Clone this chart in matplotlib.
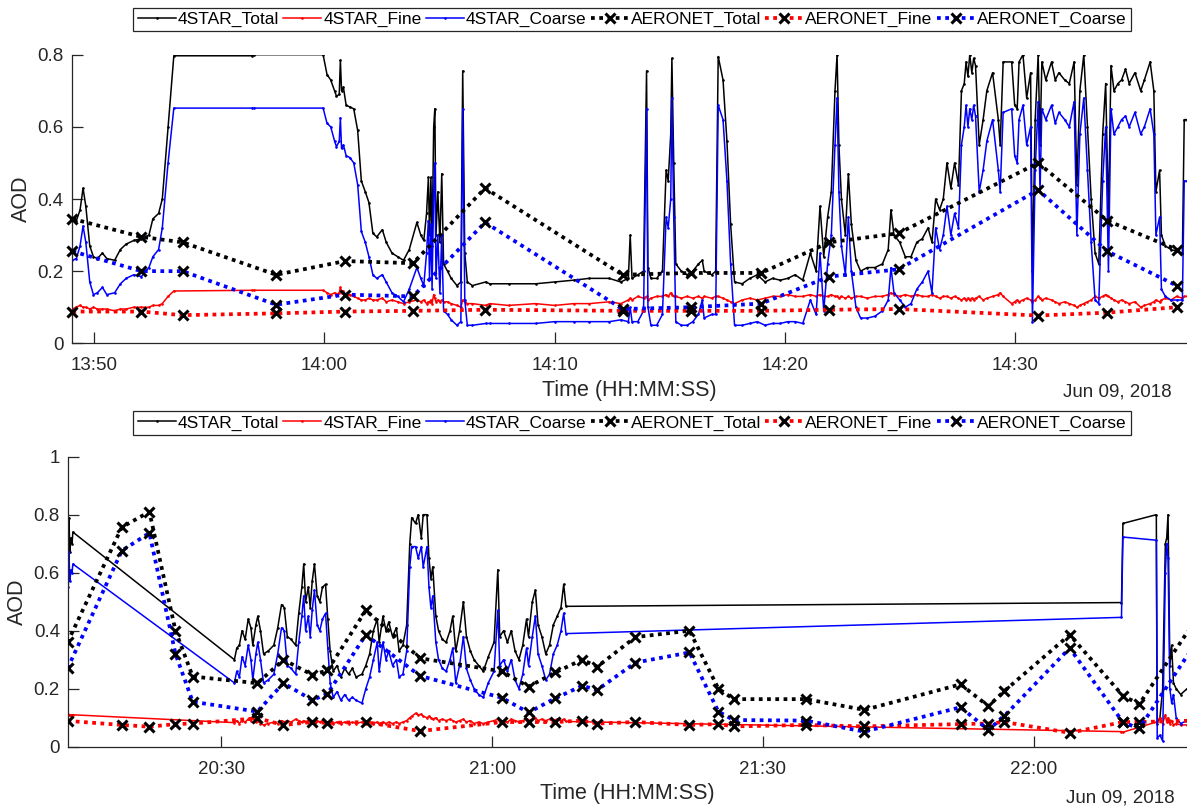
import numpy as np
import pandas as pd
import matplotlib
matplotlib.use('Agg')
import matplotlib.pyplot as plt
import matplotlib.dates as mdates
from matplotlib.ticker import FuncFormatter

plt.rcParams['font.family'] = ['Liberation Sans', 'DejaVu Sans']

# ---- 13:49 - 14:37 leg, times in minutes after 13:00 ----
star_t1 = [49.07, 49.24, 49.40, 49.53, 49.65, 49.82, 49.98, 50.15, 50.37, 50.56,
           50.90, 51.15, 51.40, 51.73, 52.06, 52.39, 52.56, 52.81, 52.97, 53.22,
           53.47, 56.88, 56.95, 59.95, 60.12, 60.28, 60.45, 60.53, 60.65, 60.70,
           60.75, 60.83, 60.95, 61.11, 61.28, 61.45, 61.61, 61.78, 61.94, 62.11,
           62.28, 62.52, 62.69, 62.94, 63.19, 63.44, 63.69, 64.02, 64.19, 64.32,
           64.44, 64.52, 64.57, 64.63, 64.68, 64.75, 64.80, 64.85, 64.93, 65.02,
           65.10, 65.18, 65.35, 65.51, 65.76, 65.93, 66.01, 66.10, 66.21, 66.43,
           67.01, 67.18, 68.00, 69.17, 70.00, 70.83, 71.50, 72.37, 72.87, 73.20,
           73.28, 73.36, 73.61, 73.86, 73.99, 74.05, 74.18, 74.43, 74.68, 74.84,
           74.93, 75.04, 75.09, 75.17, 75.26, 75.50, 75.75, 76.00, 76.24, 76.41,
           76.49, 76.82, 76.99, 77.10, 77.31, 77.48, 77.64, 77.81, 78.14, 78.47,
           78.80, 79.13, 79.46, 79.79, 80.12, 80.44, 80.77, 81.10, 81.35, 81.52,
           81.68, 81.85, 82.01, 82.17, 82.26, 82.34, 82.45, 82.62, 82.75, 82.88,
           83.08, 83.28, 83.57, 83.90, 84.23, 84.48, 84.60, 84.73, 84.98, 85.22,
           85.47, 85.72, 85.96, 86.21, 86.38, 86.54, 86.71, 86.87, 87.03, 87.20,
           87.36, 87.53, 87.66, 87.78, 87.86, 87.94, 88.02, 88.11, 88.19, 88.27,
           88.43, 88.60, 88.76, 89.01, 89.26, 89.34, 89.47, 89.84, 89.97, 90.08,
           90.16, 90.33, 90.49, 90.66, 90.74, 90.86, 90.99, 91.07, 91.15, 91.32,
           91.57, 91.73, 91.89, 92.14, 92.34, 92.55, 92.67, 92.80, 92.97, 93.13,
           93.29, 93.46, 93.62, 93.79, 93.92, 94.04, 94.15, 94.28, 94.45, 94.61,
           94.78, 94.94, 95.19, 95.44, 95.60, 95.85, 96.01, 96.10, 96.26, 96.34,
           96.51, 96.75, 97.00, 97.25, 97.33, 97.45]
star_total1 = [0.345, 0.34, 0.37, 0.43, 0.38, 0.27, 0.24, 0.235, 0.25, 0.235,
               0.23, 0.26, 0.275, 0.285, 0.29, 0.30, 0.345, 0.36, 0.40, 0.60,
               0.797, 0.797, 0.80, 0.80, 0.745, 0.73, 0.70, 0.685, 0.69, 0.785,
               0.70, 0.71, 0.66, 0.655, 0.65, 0.59, 0.45, 0.42, 0.39, 0.305,
               0.295, 0.315, 0.28, 0.25, 0.24, 0.23, 0.26, 0.335, 0.30, 0.285,
               0.36, 0.46, 0.30, 0.46, 0.27, 0.60, 0.65, 0.30, 0.42, 0.28,
               0.47, 0.22, 0.20, 0.18, 0.16, 0.17, 0.755, 0.25, 0.17, 0.16,
               0.17, 0.165, 0.165, 0.165, 0.17, 0.175, 0.18, 0.18, 0.17, 0.18,
               0.30, 0.18, 0.19, 0.20, 0.755, 0.21, 0.18, 0.18, 0.20, 0.48,
               0.45, 0.58, 0.79, 0.50, 0.22, 0.20, 0.19, 0.20, 0.22, 0.23,
               0.20, 0.19, 0.20, 0.795, 0.73, 0.56, 0.33, 0.17, 0.165, 0.18,
               0.19, 0.17, 0.18, 0.175, 0.18, 0.19, 0.175, 0.25, 0.20, 0.38,
               0.24, 0.35, 0.42, 0.70, 0.80, 0.55, 0.40, 0.30, 0.47, 0.33,
               0.23, 0.20, 0.21, 0.21, 0.22, 0.26, 0.37, 0.30, 0.28, 0.24,
               0.24, 0.28, 0.29, 0.32, 0.28, 0.40, 0.37, 0.40, 0.50, 0.43,
               0.50, 0.44, 0.70, 0.72, 0.78, 0.74, 0.80, 0.75, 0.79, 0.77,
               0.55, 0.62, 0.70, 0.75, 0.62, 0.55, 0.78, 0.78, 0.66, 0.65,
               0.78, 0.80, 0.68, 0.75, 0.20, 0.62, 0.80, 0.55, 0.78, 0.73,
               0.78, 0.73, 0.75, 0.73, 0.72, 0.78, 0.44, 0.70, 0.80, 0.60,
               0.40, 0.25, 0.22, 0.58, 0.72, 0.35, 0.77, 0.70, 0.72, 0.73,
               0.76, 0.72, 0.75, 0.70, 0.73, 0.78, 0.70, 0.42, 0.48, 0.30,
               0.27, 0.26, 0.255, 0.25, 0.62, 0.62]
star_fine1 = [0.095, 0.10, 0.105, 0.10, 0.10, 0.095, 0.10, 0.095, 0.095, 0.095,
              0.09, 0.095, 0.095, 0.10, 0.10, 0.10, 0.105, 0.105, 0.11, 0.13,
              0.145, 0.147, 0.147, 0.147, 0.14, 0.135, 0.14, 0.135, 0.14, 0.155,
              0.14, 0.145, 0.13, 0.135, 0.13, 0.125, 0.12, 0.12, 0.125, 0.12,
              0.12, 0.125, 0.115, 0.12, 0.115, 0.11, 0.115, 0.12, 0.115, 0.12,
              0.11, 0.115, 0.115, 0.12, 0.11, 0.135, 0.125, 0.115, 0.12, 0.115,
              0.12, 0.115, 0.115, 0.11, 0.105, 0.10, 0.12, 0.115, 0.11, 0.11,
              0.105, 0.11, 0.105, 0.11, 0.105, 0.11, 0.11, 0.115, 0.11, 0.12,
              0.125, 0.12, 0.13, 0.125, 0.13, 0.12, 0.125, 0.13, 0.13, 0.135,
              0.13, 0.14, 0.135, 0.13, 0.13, 0.125, 0.13, 0.125, 0.13, 0.125,
              0.13, 0.125, 0.13, 0.13, 0.125, 0.12, 0.115, 0.11, 0.12, 0.125,
              0.12, 0.125, 0.13, 0.13, 0.135, 0.13, 0.13, 0.135, 0.13, 0.135,
              0.13, 0.13, 0.135, 0.13, 0.13, 0.125, 0.13, 0.125, 0.13, 0.125,
              0.13, 0.13, 0.125, 0.13, 0.13, 0.135, 0.14, 0.135, 0.13, 0.135,
              0.13, 0.135, 0.13, 0.13, 0.135, 0.13, 0.125, 0.13, 0.13, 0.125,
              0.13, 0.125, 0.12, 0.125, 0.12, 0.125, 0.12, 0.125, 0.12, 0.125,
              0.13, 0.12, 0.125, 0.13, 0.135, 0.14, 0.13, 0.11, 0.115, 0.12,
              0.115, 0.12, 0.125, 0.12, 0.115, 0.12, 0.13, 0.125, 0.12, 0.125,
              0.12, 0.115, 0.11, 0.115, 0.11, 0.105, 0.10, 0.105, 0.11, 0.115,
              0.12, 0.13, 0.125, 0.13, 0.135, 0.13, 0.125, 0.12, 0.115, 0.12,
              0.115, 0.11, 0.115, 0.10, 0.105, 0.11, 0.115, 0.12, 0.115, 0.12,
              0.125, 0.12, 0.13, 0.125, 0.13, 0.13]
star_coarse1 = [0.23, 0.235, 0.27, 0.325, 0.28, 0.17, 0.135, 0.14, 0.155, 0.135,
                0.14, 0.165, 0.18, 0.19, 0.185, 0.21, 0.24, 0.26, 0.32, 0.50,
                0.652, 0.652, 0.652, 0.652, 0.61, 0.60, 0.56, 0.545, 0.56, 0.625,
                0.54, 0.55, 0.52, 0.515, 0.50, 0.44, 0.31, 0.28, 0.24, 0.19,
                0.18, 0.19, 0.17, 0.14, 0.13, 0.115, 0.15, 0.21, 0.18, 0.16,
                0.25, 0.34, 0.18, 0.33, 0.15, 0.42, 0.50, 0.18, 0.30, 0.14,
                0.30, 0.09, 0.08, 0.065, 0.05, 0.06, 0.65, 0.12, 0.05, 0.05,
                0.055, 0.055, 0.055, 0.055, 0.06, 0.06, 0.06, 0.06, 0.065, 0.06,
                0.10, 0.06, 0.06, 0.09, 0.65, 0.10, 0.05, 0.05, 0.08, 0.35,
                0.32, 0.40, 0.68, 0.35, 0.06, 0.05, 0.05, 0.06, 0.08, 0.12,
                0.07, 0.08, 0.08, 0.66, 0.62, 0.45, 0.22, 0.05, 0.05, 0.055,
                0.06, 0.05, 0.055, 0.055, 0.06, 0.06, 0.055, 0.12, 0.08, 0.25,
                0.09, 0.22, 0.30, 0.55, 0.68, 0.42, 0.27, 0.19, 0.35, 0.20,
                0.10, 0.07, 0.07, 0.075, 0.09, 0.12, 0.21, 0.14, 0.12, 0.10,
                0.11, 0.15, 0.17, 0.20, 0.14, 0.32, 0.26, 0.30, 0.38, 0.30,
                0.36, 0.32, 0.55, 0.60, 0.66, 0.60, 0.65, 0.62, 0.66, 0.63,
                0.42, 0.48, 0.56, 0.62, 0.48, 0.42, 0.64, 0.65, 0.52, 0.50,
                0.62, 0.66, 0.55, 0.60, 0.06, 0.48, 0.67, 0.42, 0.65, 0.62,
                0.66, 0.61, 0.64, 0.62, 0.60, 0.67, 0.30, 0.58, 0.68, 0.48,
                0.28, 0.12, 0.11, 0.45, 0.60, 0.20, 0.65, 0.58, 0.60, 0.62,
                0.63, 0.60, 0.64, 0.58, 0.60, 0.65, 0.58, 0.30, 0.35, 0.15,
                0.13, 0.12, 0.12, 0.12, 0.45, 0.45]

aer_t1 = [49.07, 52.06, 53.85, 57.91, 60.91, 63.85, 66.98, 72.95, 75.91,
          78.96, 81.93, 84.93, 90.99, 93.99, 97.00]
aer_total1 = [0.345, 0.295, 0.28, 0.19, 0.228, 0.222, 0.43, 0.19, 0.195,
              0.195, 0.28, 0.305, 0.50, 0.34, 0.26]
aer_fine1 = [0.088, 0.088, 0.078, 0.083, 0.088, 0.09, 0.093, 0.09, 0.09,
             0.09, 0.093, 0.095, 0.077, 0.085, 0.10]
aer_coarse1 = [0.255, 0.20, 0.20, 0.107, 0.135, 0.13, 0.335, 0.095, 0.10,
               0.11, 0.185, 0.205, 0.425, 0.255, 0.16]

# ---- 20:13 - 22:17 leg, times in minutes after 20:00 ----
star_t2 = [13.03, 13.11, 13.20, 13.33, 13.45, 13.54, 31.44, 31.70, 31.99, 32.29,
           32.63, 32.97, 33.27, 33.48, 33.82, 34.03, 34.33, 34.67, 35.18, 35.81,
           36.24, 36.66, 36.96, 37.30, 37.72, 38.23, 38.57, 38.91, 39.12, 39.33,
           39.63, 39.84, 40.06, 40.31, 40.61, 40.90, 41.20, 41.54, 41.79, 42.05,
           42.39, 42.81, 43.24, 43.66, 44.09, 44.51, 44.93, 45.57, 46.00, 46.42,
           46.84, 47.27, 47.48, 47.90, 48.24, 48.54, 48.96, 49.39, 49.69, 50.11,
           50.53, 50.87, 51.09, 51.51, 51.81, 52.15, 52.36, 52.78, 53.00, 53.21,
           53.42, 53.76, 54.06, 54.48, 54.90, 55.33, 55.63, 55.97, 56.39, 56.81,
           57.15, 57.58, 58.00, 58.51, 59.02, 59.57, 60.21, 60.63, 60.84, 61.27,
           61.69, 62.12, 62.54, 62.97, 63.39, 63.81, 64.03, 64.45, 64.79, 65.09,
           65.51, 65.94, 66.36, 66.78, 67.21, 67.63, 67.93, 68.18, 129.74, 129.90,
           133.60, 133.70, 134.00, 134.30, 134.60, 134.75, 134.90, 135.10, 135.30, 135.50,
           135.80, 136.30, 137.00]
star_total2 = [0.66, 0.79, 0.67, 0.72, 0.70, 0.74, 0.30, 0.34, 0.35, 0.40,
               0.37, 0.44, 0.41, 0.35, 0.42, 0.45, 0.40, 0.32, 0.33, 0.35,
               0.41, 0.49, 0.48, 0.38, 0.37, 0.35, 0.46, 0.55, 0.63, 0.50,
               0.55, 0.48, 0.57, 0.63, 0.52, 0.50, 0.55, 0.56, 0.44, 0.33,
               0.26, 0.28, 0.24, 0.27, 0.25, 0.27, 0.24, 0.25, 0.28, 0.32,
               0.40, 0.44, 0.36, 0.45, 0.40, 0.43, 0.38, 0.41, 0.33, 0.35,
               0.42, 0.70, 0.79, 0.77, 0.80, 0.72, 0.80, 0.80, 0.65, 0.58,
               0.62, 0.45, 0.40, 0.37, 0.36, 0.40, 0.45, 0.33, 0.40, 0.50,
               0.38, 0.33, 0.30, 0.28, 0.26, 0.31, 0.36, 0.61, 0.38, 0.40,
               0.36, 0.40, 0.33, 0.30, 0.35, 0.44, 0.38, 0.50, 0.54, 0.42,
               0.38, 0.32, 0.35, 0.42, 0.45, 0.48, 0.56, 0.484, 0.497, 0.77,
               0.80, 0.08, 0.10, 0.20, 0.70, 0.72, 0.80, 0.28, 0.35, 0.22,
               0.20, 0.18, 0.20]
star_fine2 = [0.112, 0.11, 0.11, 0.11, 0.11, 0.11, 0.083, 0.09, 0.08, 0.09,
              0.085, 0.095, 0.09, 0.10, 0.085, 0.09, 0.08, 0.075, 0.08, 0.085,
              0.08, 0.09, 0.085, 0.09, 0.085, 0.095, 0.09, 0.085, 0.09, 0.085,
              0.09, 0.085, 0.09, 0.085, 0.09, 0.085, 0.09, 0.085, 0.08, 0.085,
              0.08, 0.085, 0.08, 0.085, 0.08, 0.085, 0.08, 0.085, 0.08, 0.085,
              0.08, 0.085, 0.08, 0.085, 0.08, 0.085, 0.08, 0.085, 0.08, 0.085,
              0.09, 0.10, 0.105, 0.115, 0.11, 0.112, 0.105, 0.10, 0.105, 0.10,
              0.095, 0.10, 0.09, 0.095, 0.09, 0.095, 0.09, 0.085, 0.09, 0.095,
              0.085, 0.09, 0.08, 0.085, 0.08, 0.085, 0.09, 0.095, 0.085, 0.09,
              0.085, 0.095, 0.09, 0.085, 0.09, 0.095, 0.09, 0.095, 0.10, 0.09,
              0.095, 0.09, 0.095, 0.09, 0.095, 0.09, 0.095, 0.087, 0.052, 0.05,
              0.085, 0.09, 0.10, 0.08, 0.11, 0.085, 0.10, 0.08, 0.09, 0.075,
              0.08, 0.075, 0.075]
star_coarse2 = [0.55, 0.67, 0.57, 0.61, 0.60, 0.63, 0.22, 0.26, 0.24, 0.31,
                0.28, 0.35, 0.30, 0.23, 0.32, 0.36, 0.30, 0.22, 0.23, 0.25,
                0.32, 0.41, 0.40, 0.28, 0.27, 0.25, 0.36, 0.45, 0.52, 0.40,
                0.45, 0.38, 0.47, 0.54, 0.42, 0.40, 0.44, 0.46, 0.34, 0.22,
                0.17, 0.19, 0.16, 0.18, 0.16, 0.17, 0.16, 0.15, 0.20, 0.24,
                0.30, 0.36, 0.26, 0.36, 0.30, 0.33, 0.28, 0.30, 0.24, 0.25,
                0.33, 0.62, 0.69, 0.69, 0.65, 0.69, 0.62, 0.69, 0.55, 0.48,
                0.52, 0.36, 0.30, 0.27, 0.26, 0.30, 0.34, 0.22, 0.28, 0.38,
                0.27, 0.23, 0.20, 0.18, 0.17, 0.22, 0.26, 0.47, 0.28, 0.30,
                0.26, 0.30, 0.23, 0.20, 0.25, 0.34, 0.28, 0.38, 0.45, 0.32,
                0.28, 0.23, 0.25, 0.32, 0.35, 0.40, 0.46, 0.39, 0.446, 0.723,
                0.712, 0.03, 0.04, 0.02, 0.60, 0.70, 0.65, 0.20, 0.15, 0.18,
                0.10, 0.08, 0.09]

aer_t2 = [12.95, 18.97, 22.02, 24.91, 26.82, 33.99, 36.87, 40.06, 41.75, 46.00,
          52.02, 61.06, 64.03, 67.00, 69.97, 71.66, 75.88, 81.87, 85.07, 86.76,
          94.76, 101.25, 111.91, 114.99, 116.76, 124.00, 129.91, 131.72, 138.00]
aer_total2 = [0.36, 0.757, 0.81, 0.40, 0.242, 0.219, 0.30, 0.248, 0.263, 0.47,
              0.305, 0.26, 0.207, 0.256, 0.30, 0.276, 0.378, 0.40, 0.20, 0.164,
              0.164, 0.127, 0.215, 0.14, 0.192, 0.386, 0.175, 0.147, 0.44]
aer_fine2 = [0.089, 0.075, 0.069, 0.078, 0.08, 0.098, 0.075, 0.085, 0.082, 0.085,
             0.054, 0.085, 0.085, 0.085, 0.09, 0.08, 0.085, 0.075, 0.078, 0.07,
             0.075, 0.07, 0.078, 0.08, 0.085, 0.048, 0.085, 0.085, 0.09]
aer_coarse2 = [0.27, 0.676, 0.737, 0.32, 0.155, 0.121, 0.219, 0.161, 0.182, 0.386,
               0.244, 0.169, 0.118, 0.167, 0.21, 0.196, 0.29, 0.325, 0.121, 0.092,
               0.09, 0.052, 0.136, 0.058, 0.106, 0.34, 0.084, 0.063, 0.36]

labels = ['4STAR_Total', '4STAR_Fine', '4STAR_Coarse',
          'AERONET_Total', 'AERONET_Fine', 'AERONET_Coarse']
colors = ['k', 'r', 'b']
axcol = '#262626'


def stamp(base, minutes):
    return pd.Timestamp('2018-06-09 ' + base) + pd.to_timedelta(np.array(minutes), unit='m')


def draw(ax, t_star, star, t_aer, aer, clip):
    handles = []
    for vals, c in zip(star, colors):
        h, = ax.plot(t_star, vals, '-', color=c, lw=1.1, marker='.', ms=1.8)
        handles.append(h)
    for vals, c in zip(aer, colors):
        h, = ax.plot(t_aer, vals, color=c, lw=2.7, linestyle=(0, (1, 1.2)),
                     marker='x', ms=7, mew=2.2, mec='k', clip_on=clip, zorder=3)
        handles.append(h)
    for s in ['top', 'right']:
        ax.spines[s].set_visible(False)
    for s in ['left', 'bottom']:
        ax.spines[s].set_color(axcol)
        ax.spines[s].set_linewidth(0.9)
    ax.tick_params(direction='in', length=8, width=0.9, colors=axcol,
                   labelsize=13.5)
    ax.tick_params(axis='x', pad=10)
    ax.tick_params(axis='y', pad=6)
    ax.yaxis.set_major_formatter(FuncFormatter(lambda v, p: f'{v:g}'))
    ax.xaxis.set_major_formatter(mdates.DateFormatter('%H:%M'))
    ax.set_xlabel('Time (HH:MM:SS)', fontsize=15.5, color=axcol, labelpad=4)
    ax.set_ylabel('AOD', fontsize=15.5, color=axcol, labelpad=4)
    return handles


W, H = 1187, 807
fig = plt.figure(figsize=(W / 100, H / 100), dpi=100)

# upper panel
ax1 = fig.add_axes([72 / W, 1 - 343.3 / H, (W - 72) / W, (343.3 - 54.7) / H])
h1 = draw(ax1, stamp('13:00', star_t1), [star_total1, star_fine1, star_coarse1],
          stamp('13:00', aer_t1), [aer_total1, aer_fine1, aer_coarse1], False)
ax1.set_ylim(0, 0.8)
ax1.set_yticks([0, 0.2, 0.4, 0.6, 0.8])
ax1.set_xlim(pd.Timestamp('2018-06-09 13:49:03'), pd.Timestamp('2018-06-09 14:37:27'))
ax1.xaxis.set_major_locator(mdates.MinuteLocator(byminute=[0, 10, 20, 30, 40, 50]))
fig.text(1172 / W, 1 - 392 / H, 'Jun 09, 2018', ha='right', va='center',
         fontsize=13.5, color=axcol)

# lower panel
ax2 = fig.add_axes([68.3 / W, 1 - 746.7 / H, (W - 68.3) / W, (746.7 - 456.7) / H])
h2 = draw(ax2, stamp('20:00', star_t2), [star_total2, star_fine2, star_coarse2],
          stamp('20:00', aer_t2), [aer_total2, aer_fine2, aer_coarse2], True)
ax2.set_ylim(0, 1)
ax2.set_yticks([0, 0.2, 0.4, 0.6, 0.8, 1])
ax2.set_xlim(pd.Timestamp('2018-06-09 20:13:02'), pd.Timestamp('2018-06-09 22:17:00'))
ax2.xaxis.set_major_locator(mdates.MinuteLocator(byminute=[0, 30]))
fig.text(1175 / W, 1 - 798 / H, 'Jun 09, 2018', ha='right', va='center',
         fontsize=13.5, color=axcol)

for hs, yc in [(h1, 19.5), (h2, 423)]:
    leg = fig.legend(hs, labels, ncol=6, loc='center',
                     bbox_to_anchor=(632 / W, 1 - yc / H), fontsize=12.5,
                     fancybox=False, edgecolor=axcol, framealpha=1,
                     handlelength=2.2, handletextpad=0.1, columnspacing=0.25,
                     borderpad=0.25, borderaxespad=0)
    leg.get_frame().set_linewidth(0.9)

fig.savefig('out.png', dpi=100)
